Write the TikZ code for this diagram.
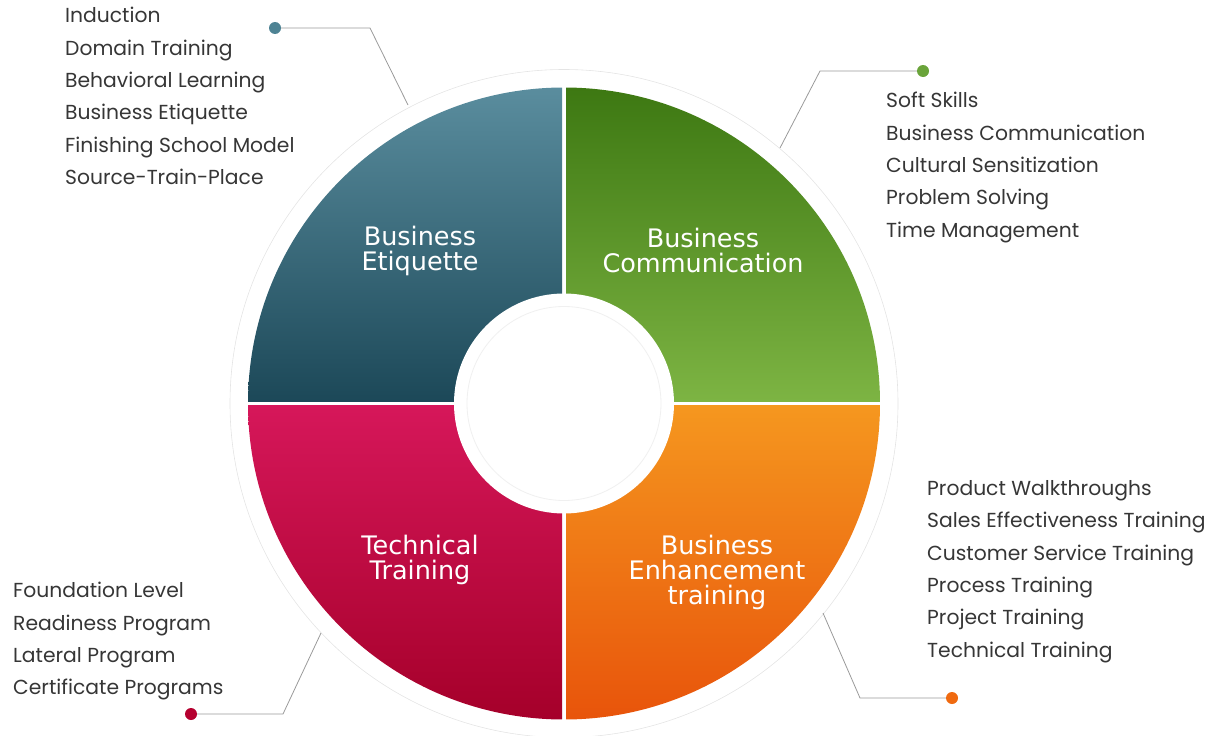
\documentclass[tikz,border=0pt]{standalone}
\usepackage{fontspec}
\setmainfont{Poppins}
\newfontfamily\labelfont{DejaVu Sans}
\usetikzlibrary{positioning}

\definecolor{etiqtop}{HTML}{5A8D9E}
\definecolor{etiqbot}{HTML}{1C4858}
\definecolor{commtop}{HTML}{3D7812}
\definecolor{commbot}{HTML}{7DB443}
\definecolor{techtop}{HTML}{D6175A}
\definecolor{techbot}{HTML}{A5002A}
\definecolor{enhtop}{HTML}{F5971F}
\definecolor{enhbot}{HTML}{E8540B}
\definecolor{etiqdot}{HTML}{4E8394}
\definecolor{commdot}{HTML}{6AA43A}
\definecolor{techdot}{HTML}{B5002F}
\definecolor{enhdot}{HTML}{F06A10}
\definecolor{listgray}{HTML}{363636}
\definecolor{linkgray}{HTML}{9A9A9A}
\definecolor{ringgray}{HTML}{E4E4E4}

\pgfdeclareradialshading{innerglow}{\pgfpoint{0bp}{0bp}}{color(0bp)=(white); color(30bp)=(white); color(50bp)=(black!9)}

\begin{document}
\begin{tikzpicture}[x=1pt,y=-1pt,
  list/.style={anchor=north west,align=left,inner sep=0pt,text=listgray,font=\fontsize{20.3}{32.4}\selectfont},
  quad/.style={align=center,inner sep=0pt,text=white,font=\labelfont\fontsize{25.5}{25}\selectfont},
  dot/.style={circle,inner sep=0pt,minimum size=12pt},
  link/.style={draw=linkgray,line width=0.8pt}]
\useasboundingbox (0,0) rectangle (1208,736);
\coordinate (c) at (564,403.5);

% quadrants
\begin{scope}
\clip (c) circle (316);
\shade[top color=etiqtop,bottom color=etiqbot] (248,87.5) rectangle (562,401.5);
\shade[top color=commtop,bottom color=commbot] (566,87.5) rectangle (880,401.5);
\shade[top color=techtop,bottom color=techbot] (248,405.5) rectangle (562,719.5);
\shade[top color=enhtop,bottom color=enhbot] (566,405.5) rectangle (880,719.5);
\end{scope}
\fill[white] (c) circle (110);
\shade[shading=innerglow] (c) circle (97);
\draw[black!6,line width=0.8pt] (c) circle (97);
\draw[ringgray,line width=0.6pt] (c) circle (334);

% labels
\node[quad] (etiq) at (420,251) {Business\\Etiquette};
\node[quad] (comm) at (703,250) {Business\\Communication};
\node[quad] (tech) at (420,560) {Technical\\Training};
\node[quad] (enh) at (717,572) {Business\\Enhancement\\training};

% lists
\node[list] (etiq_list) at (65,7) {Induction\\Domain Training\\Behavioral Learning\\Business Etiquette\\Finishing School Model\\Source-Train-Place};
\node[list] (comm_list) at (886,92) {Soft Skills\\Business Communication\\Cultural Sensitization\\Problem Solving\\Time Management};
\node[list] (enh_list) at (927,480) {Product Walkthroughs\\Sales Effectiveness Training\\Customer Service Training\\Process Training\\Project Training\\Technical Training};
\node[list] (tech_list) at (13,582) {Foundation Level\\Readiness Program\\Lateral Program\\Certificate Programs};

% connectors
\node[dot,fill=etiqdot] (etiq_dot) at (275,28) {};
\node[dot,fill=commdot] (comm_dot) at (923,71) {};
\node[dot,fill=techdot] (tech_dot) at (191,714) {};
\node[dot,fill=enhdot] (enh_dot) at (952,698) {};
\coordinate (etiq_bend) at (370,28);
\coordinate (comm_bend) at (820,71);
\coordinate (tech_bend) at (283,714);
\coordinate (enh_bend) at (860,698);
\coordinate (etiq_end) at (408,105);
\coordinate (comm_end) at (780,148);
\coordinate (tech_end) at (321,633);
\coordinate (enh_end) at (823,613);
\draw[link] (etiq_dot) -- (etiq_bend) -- (etiq_end);
\draw[link] (comm_dot) -- (comm_bend) -- (comm_end);
\draw[link] (tech_dot) -- (tech_bend) -- (tech_end);
\draw[link] (enh_dot) -- (enh_bend) -- (enh_end);
\end{tikzpicture}
\end{document}
